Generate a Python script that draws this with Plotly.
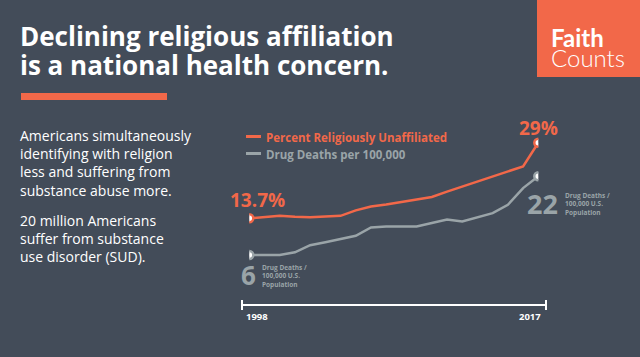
import plotly.graph_objects as go

W, H = 640, 357

years = list(range(1998, 2018))
unaffiliated_pct = [13.7, 14.0, 14.2, 14.0, 13.9, 14.05, 14.2, 15.3, 16.1, 16.5,
                    17.0, 17.5, 18.0, 19.1, 20.1, 21.1, 22.2, 23.2, 24.2, 29.0]
drug_deaths = [6.0, 6.0, 6.0, 6.55, 8.0, 8.6, 9.25, 9.9, 11.6, 11.8,
               11.8, 11.8, 12.5, 13.2, 12.8, 13.6, 14.5, 16.2, 19.6, 22.0]

series_names = ["Percent Religiously Unaffiliated", "Drug Deaths per 100,000"]
start_label_red = "13.7%"
end_label_red = "29%"
start_label_gray = "6"
end_label_gray = "22"
unit_label = "Drug Deaths /<br>100,000 U.S.<br>Population"
axis_labels = ["1998", "2017"]

BG = "#434c59"
RED = "#f26849"
GRAY = "#9aa4a8"
WHITE = "#ffffff"


def px(x):
    return x / W


def py(y):
    return 1 - y / H


fig = go.Figure()

fig.add_trace(go.Scatter(
    x=years, y=unaffiliated_pct, mode="lines", line=dict(color=RED, width=2.5),
    name=series_names[0], yaxis="y", hoverinfo="skip"))
fig.add_trace(go.Scatter(
    x=[years[0], years[-1]], y=[unaffiliated_pct[0], unaffiliated_pct[-1]], mode="markers",
    marker=dict(size=8, color=WHITE, line=dict(color=RED, width=2.5)),
    showlegend=False, yaxis="y", hoverinfo="skip"))
fig.add_trace(go.Scatter(
    x=years, y=drug_deaths, mode="lines", line=dict(color=GRAY, width=2.5),
    name=series_names[1], yaxis="y2", hoverinfo="skip"))
fig.add_trace(go.Scatter(
    x=[years[0], years[-1]], y=[drug_deaths[0], drug_deaths[-1]], mode="markers",
    marker=dict(size=8, color=WHITE, line=dict(color=GRAY, width=2.5)),
    showlegend=False, yaxis="y2", hoverinfo="skip"))

shapes = [
    # logo box
    dict(type="rect", xref="paper", yref="paper", x0=px(537), x1=px(641), y0=py(77), y1=py(-1),
         fillcolor=RED, line=dict(width=0), layer="below"),
    # title underline
    dict(type="rect", xref="paper", yref="paper", x0=px(21), x1=px(167), y0=py(100), y1=py(93),
         fillcolor=RED, line=dict(width=0)),
    # legend swatches
    dict(type="line", xref="paper", yref="paper", x0=px(246), x1=px(261), y0=py(136.5), y1=py(136.5),
         line=dict(color=RED, width=3)),
    dict(type="line", xref="paper", yref="paper", x0=px(246), x1=px(261), y0=py(153.5), y1=py(153.5),
         line=dict(color=GRAY, width=3)),
    # timeline
    dict(type="line", xref="paper", yref="paper", x0=px(242), x1=px(546), y0=py(305), y1=py(305),
         line=dict(color=WHITE, width=2)),
    dict(type="line", xref="paper", yref="paper", x0=px(242), x1=px(242), y0=py(300), y1=py(310),
         line=dict(color=WHITE, width=2)),
    dict(type="line", xref="paper", yref="paper", x0=px(546), x1=px(546), y0=py(300), y1=py(310),
         line=dict(color=WHITE, width=2)),
]

TITLE_FONT = "Open Sans"
BOLD_FONT = "Open Sans"


def ann(text, x, y, size, color, family="Open Sans", weight="normal", xanchor="left",
        yanchor="middle", align="left"):
    return dict(text=text, x=px(x), y=py(y), xref="paper", yref="paper", showarrow=False,
                xanchor=xanchor, yanchor=yanchor, align=align,
                font=dict(size=size, color=color, family=family, weight=weight))


annotations = [
    ann("Declining religious affiliation", 18, 36, 26, WHITE, TITLE_FONT, "bold"),
    ann("is a national health concern.", 18, 65, 26, WHITE, TITLE_FONT, "bold"),
    ann("Faith", 549, 38, 24, WHITE, "Lato", "bold"),
    ann("Counts", 549, 58, 24, WHITE, "Lato", 300),
    ann("Americans simultaneously<br>identifying with religion<br>less and suffering from<br>substance abuse more.",
        18, 163, 14, WHITE, "Open Sans"),
    ann("20 million Americans<br>suffer from substance<br>use disorder (SUD).",
        18, 238, 14, WHITE, "Open Sans"),
    ann(series_names[0], 264, 137, 11.5, RED, BOLD_FONT, "bold"),
    ann(series_names[1], 264, 154, 11.5, GRAY, BOLD_FONT, "bold"),
    ann(start_label_red, 228, 200, 19, RED, BOLD_FONT, "bold"),
    ann(end_label_red, 517, 128, 19, RED, BOLD_FONT, "bold"),
    ann(start_label_gray, 239, 275, 26, GRAY, BOLD_FONT, "bold"),
    ann(end_label_gray, 525, 203, 27, GRAY, BOLD_FONT, "bold"),
    ann(unit_label, 260, 276, 6.5, GRAY, BOLD_FONT, "bold"),
    ann(unit_label, 563, 204, 6.5, GRAY, BOLD_FONT, "bold"),
    ann(axis_labels[0], 244, 316, 9.5, WHITE, BOLD_FONT, "bold"),
    ann(axis_labels[1], 543, 316, 9.5, WHITE, BOLD_FONT, "bold", xanchor="right"),
]

fig.update_layout(
    width=W, height=H,
    margin=dict(l=0, r=0, t=0, b=0),
    paper_bgcolor=BG, plot_bgcolor=BG,
    showlegend=False,
    xaxis=dict(domain=[249.3 / W, 538.3 / W], range=[1998, 2017], visible=False, fixedrange=True),
    yaxis=dict(domain=[0, 1], range=[-14.38, 57.89], visible=False, fixedrange=True),
    yaxis2=dict(domain=[0, 1], range=[-14.73, 57.83], visible=False, overlaying="y", fixedrange=True),
    shapes=shapes,
    annotations=annotations,
)

fig.write_html("out.html", config={"displayModeBar": False},
               post_script="document.body.style.margin='0';document.body.style.overflow='hidden';")
